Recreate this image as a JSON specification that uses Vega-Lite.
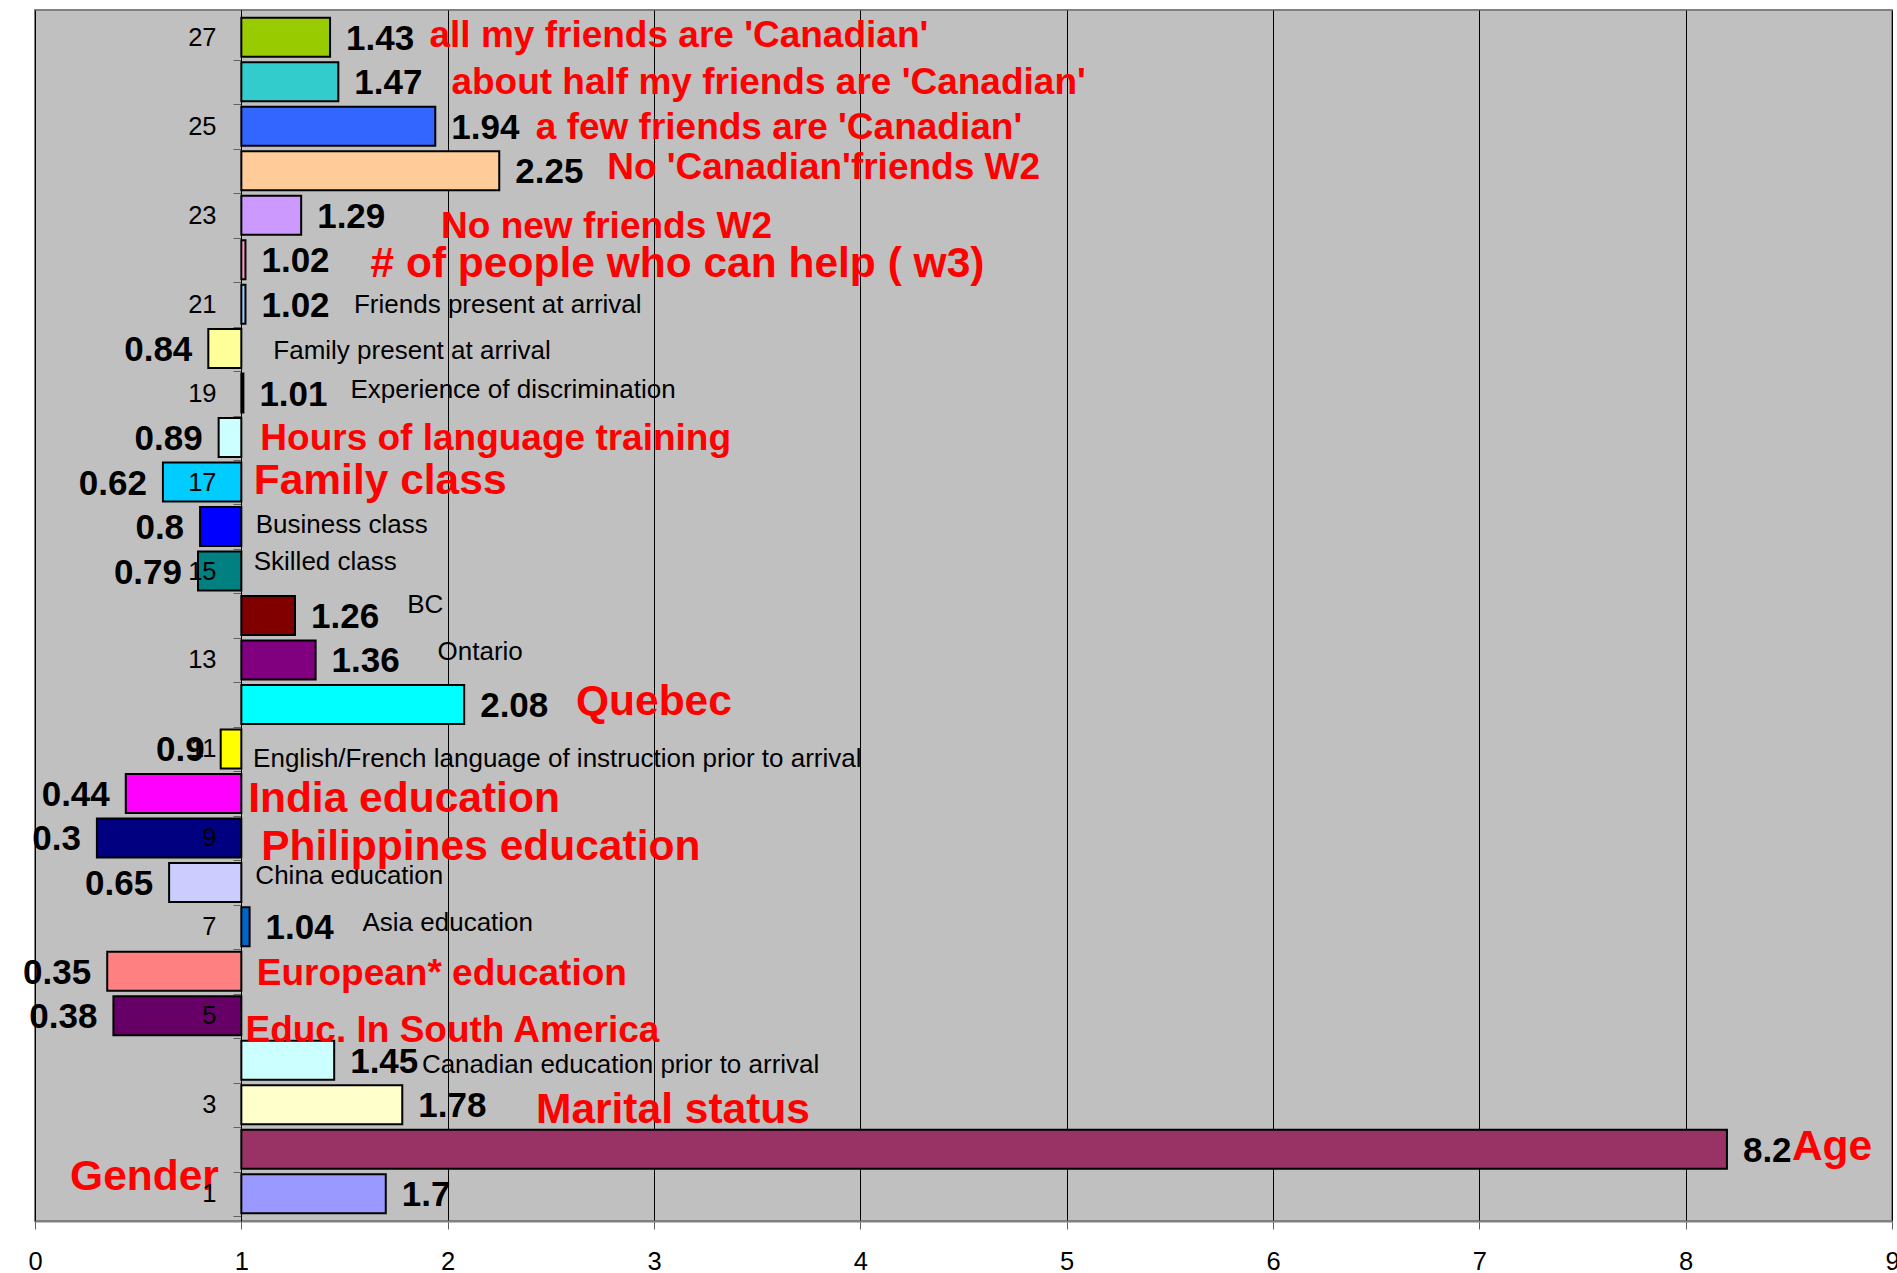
{
  "$schema": "https://vega.github.io/schema/vega-lite/v6.json",
  "width": 1857,
  "height": 1211,
  "autosize": {"type": "none"},
  "padding": {"left": 35, "top": 10, "right": 5, "bottom": 52},
  "config": {
    "font": "Liberation Sans",
    "view": {"fill": "#C0C0C0", "stroke": "#808080", "strokeWidth": 2},
    "axis": {"labelOverlap": false, "labelFont": "Liberation Sans", "labelColor": "black", "labelFontSize": 25.5, "labelFlush": false, "labelBound": false, "title": null}
  },
  "data": {
    "values": [
      {"cat": 27, "value": 1.43, "label": "all my friends are 'Canadian'", "emphasis": "medium", "lx": 1.912, "ly": 27.07},
      {"cat": 26, "value": 1.47, "label": "about half my friends are 'Canadian'", "emphasis": "medium", "lx": 2.018, "ly": 26.02},
      {"cat": 25, "value": 1.94, "label": "a few friends are 'Canadian'", "emphasis": "medium", "lx": 2.427, "ly": 25.0},
      {"cat": 24, "value": 2.25, "label": "No 'Canadian'friends W2", "emphasis": "medium", "lx": 2.773, "ly": 24.11},
      {"cat": 23, "value": 1.29, "label": "No new friends W2", "emphasis": "medium", "lx": 1.968, "ly": 22.79},
      {"cat": 22, "value": 1.02, "label": "# of people who can help ( w3)", "emphasis": "high", "lx": 1.626, "ly": 21.95},
      {"cat": 21, "value": 1.02, "label": "Friends present at arrival", "emphasis": "none", "lx": 1.546, "ly": 21.01},
      {"cat": 20, "value": 0.84, "label": "Family present at arrival", "emphasis": "none", "lx": 1.155, "ly": 19.98},
      {"cat": 19, "value": 1.01, "label": "Experience of discrimination", "emphasis": "none", "lx": 1.529, "ly": 19.09},
      {"cat": 18, "value": 0.89, "label": "Hours of language training", "emphasis": "medium", "lx": 1.092, "ly": 18.01},
      {"cat": 17, "value": 0.62, "label": "Family class", "emphasis": "high", "lx": 1.06, "ly": 17.07},
      {"cat": 16, "value": 0.8, "label": "Business class", "emphasis": "none", "lx": 1.07, "ly": 16.07},
      {"cat": 15, "value": 0.79, "label": "Skilled class", "emphasis": "none", "lx": 1.06, "ly": 15.23},
      {"cat": 14, "value": 1.26, "label": "BC", "emphasis": "none", "lx": 1.804, "ly": 14.26},
      {"cat": 13, "value": 1.36, "label": "Ontario", "emphasis": "none", "lx": 1.951, "ly": 13.21},
      {"cat": 12, "value": 2.08, "label": "Quebec", "emphasis": "high", "lx": 2.622, "ly": 12.1},
      {"cat": 11, "value": 0.9, "label": "English/French language of instruction prior to arrival", "emphasis": "none", "lx": 1.057, "ly": 10.81},
      {"cat": 10, "value": 0.44, "label": "India education", "emphasis": "high", "lx": 1.033, "ly": 9.92},
      {"cat": 9, "value": 0.3, "label": "Philippines education", "emphasis": "high", "lx": 1.096, "ly": 8.84},
      {"cat": 8, "value": 0.65, "label": "China education", "emphasis": "none", "lx": 1.068, "ly": 8.17},
      {"cat": 7, "value": 1.04, "label": "Asia education", "emphasis": "none", "lx": 1.587, "ly": 7.11},
      {"cat": 6, "value": 0.35, "label": "European* education", "emphasis": "medium", "lx": 1.075, "ly": 5.98},
      {"cat": 5, "value": 0.38, "label": "Educ. In South America", "emphasis": "medium", "lx": 1.02, "ly": 4.71},
      {"cat": 4, "value": 1.45, "label": "Canadian education prior to arrival", "emphasis": "none", "lx": 1.875, "ly": 3.93},
      {"cat": 3, "value": 1.78, "label": "Marital status", "emphasis": "high", "lx": 2.428, "ly": 2.93},
      {"cat": 2, "value": 8.2, "label": "Age", "emphasis": "high", "lx": 8.515, "ly": 2.1},
      {"cat": 1, "value": 1.7, "label": "Gender", "emphasis": "high", "lx": 0.17, "ly": 1.42}
    ]
  },
  "layer": [
    {
      "mark": {"type": "bar", "size": 39, "stroke": "black", "strokeWidth": 2},
      "encoding": {
        "x": {
          "field": "value", "type": "quantitative",
          "scale": {"domain": [0, 9], "nice": false, "zero": false},
          "axis": {
            "title": null, "values": [0, 1, 2, 3, 4, 5, 6, 7, 8, 9], "format": "d",
            "grid": true, "gridColor": "black", "gridWidth": 1, "gridOpacity": 1,
            "domainColor": "#808080", "domainWidth": 2,
            "tickColor": "#606060", "tickSize": 8, "tickWidth": 1,
            "labelFontSize": 25.5, "labelPadding": 20, "labelOverlap": false, "zindex": 0
          }
        },
        "x2": {"datum": 1},
        "y": {
          "field": "cat", "type": "quantitative",
          "scale": {"domain": [0.5, 27.5], "nice": false, "zero": false},
          "axis": {
            "title": null, "orient": "left", "offset": -206,
            "values": [1, 2, 3, 4, 5, 6, 7, 8, 9, 10, 11, 12, 13, 14, 15, 16, 17, 18, 19, 20, 21, 22, 23, 24, 25, 26, 27],
            "format": "d",
            "labelExpr": "datum.value % 2 == 1 ? datum.label : ''",
            "tickOffset": 22.43,
            "labelOffset": -22.43,
            "grid": false, "domainColor": "black", "domainWidth": 1,
            "tickColor": "#606060", "tickSize": 8, "tickWidth": 1,
            "labelFontSize": 25.5, "labelPadding": 17, "labelOverlap": false, "zindex": 1
          }
        },
        "color": {
          "field": "cat", "type": "nominal", "legend": null,
          "scale": {
            "domain": [1, 2, 3, 4, 5, 6, 7, 8, 9, 10, 11, 12, 13, 14, 15, 16, 17, 18, 19, 20, 21, 22, 23, 24, 25, 26, 27],
            "range": ["#9999FF", "#993366", "#FFFFCC", "#CCFFFF", "#660066", "#FF8080", "#0066CC", "#CCCCFF", "#000080", "#FF00FF", "#FFFF00", "#00FFFF", "#800080", "#800000", "#008080", "#0000FF", "#00CCFF", "#CCFFFF", "#000000", "#FFFF99", "#99CCFF", "#FF99CC", "#CC99FF", "#FFCC99", "#3366FF", "#33CCCC", "#99CC00"]
          }
        }
      }
    },
    {
      "transform": [{"filter": "datum.value >= 1"}],
      "mark": {"type": "text", "align": "left", "baseline": "alphabetic", "dx": 16, "dy": 12.5, "fontSize": 35, "fontWeight": "bold", "color": "black"},
      "encoding": {
        "x": {"field": "value", "type": "quantitative", "axis": {"title": null}},
        "y": {"field": "cat", "type": "quantitative", "axis": {"title": null}},
        "text": {"field": "value", "type": "nominal"}
      }
    },
    {
      "transform": [{"filter": "datum.value < 1"}],
      "mark": {"type": "text", "align": "right", "baseline": "alphabetic", "dx": -16, "dy": 12.5, "fontSize": 35, "fontWeight": "bold", "color": "black"},
      "encoding": {
        "x": {"field": "value", "type": "quantitative", "axis": {"title": null}},
        "y": {"field": "cat", "type": "quantitative", "axis": {"title": null}},
        "text": {"field": "value", "type": "nominal"}
      }
    },
    {
      "transform": [{"filter": "datum.emphasis == 'none'"}],
      "mark": {"type": "text", "align": "left", "baseline": "alphabetic", "dy": 9.3, "fontSize": 26, "fontWeight": "normal", "color": "black"},
      "encoding": {
        "x": {"field": "lx", "type": "quantitative", "axis": {"title": null}},
        "y": {"field": "ly", "type": "quantitative", "axis": {"title": null}},
        "text": {"field": "label", "type": "nominal"}
      }
    },
    {
      "transform": [{"filter": "datum.emphasis == 'medium'"}],
      "mark": {"type": "text", "align": "left", "baseline": "alphabetic", "dy": 13.2, "fontSize": 37, "fontWeight": "bold", "color": "#FF0000"},
      "encoding": {
        "x": {"field": "lx", "type": "quantitative", "axis": {"title": null}},
        "y": {"field": "ly", "type": "quantitative", "axis": {"title": null}},
        "text": {"field": "label", "type": "nominal"}
      }
    },
    {
      "transform": [{"filter": "datum.emphasis == 'high'"}],
      "mark": {"type": "text", "align": "left", "baseline": "alphabetic", "dy": 15.2, "fontSize": 42.5, "fontWeight": "bold", "color": "#FF0000"},
      "encoding": {
        "x": {"field": "lx", "type": "quantitative", "axis": {"title": null}},
        "y": {"field": "ly", "type": "quantitative", "axis": {"title": null}},
        "text": {"field": "label", "type": "nominal"}
      }
    }
  ]
}
